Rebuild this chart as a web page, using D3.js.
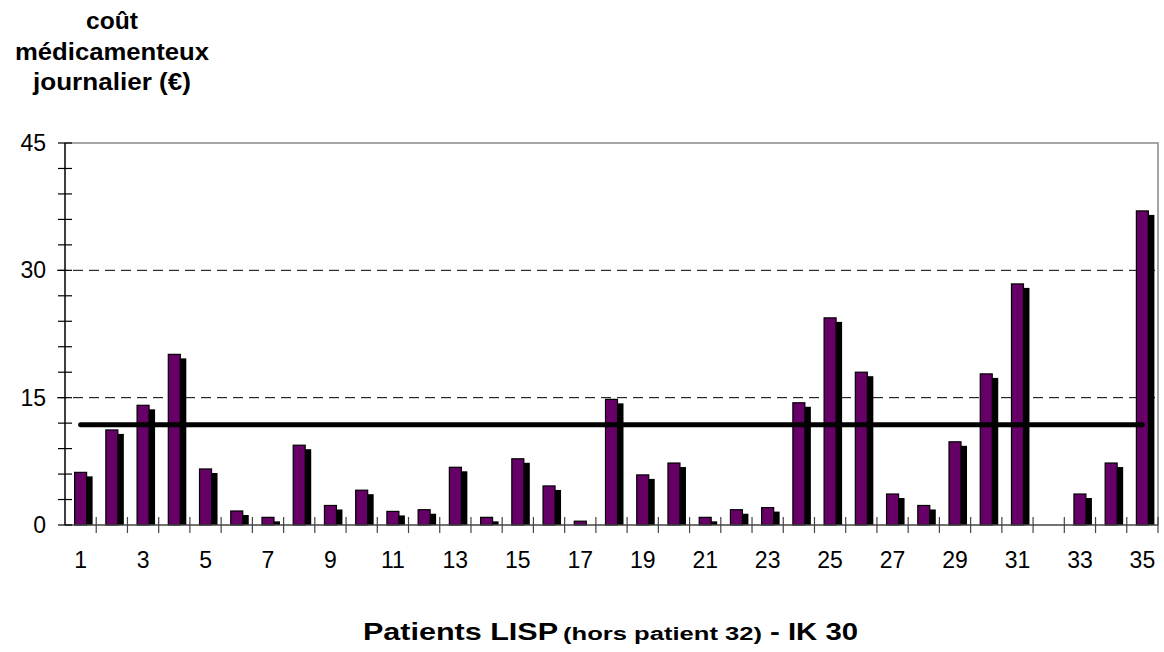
<!DOCTYPE html>
<html>
<head>
<meta charset="utf-8">
<script src="https://cdn.jsdelivr.net/npm/d3@7"></script>
<style>
  body { margin: 0; background: #fff; }
  text { font-family: Arial, "Liberation Sans", sans-serif; fill: #000; }
</style>
</head>
<body>
<svg id="chart" width="1164" height="652"></svg>
<script>
// patients 1..35 (patient 32 has no bar)
const patients = [1, 2, 3, 4, 5, 6, 7, 8, 9, 10, 11, 12, 13, 14, 15, 16, 17, 18,
  19, 20, 21, 22, 23, 24, 25, 26, 27, 28, 29, 30, 31, 32, 33, 34, 35];
// daily drug cost (€)
const costs = [6.2, 11.2, 14.1, 20.1, 6.6, 1.65, 0.9, 9.4, 2.3, 4.1, 1.6, 1.8,
  6.8, 0.9, 7.8, 4.6, 0.45, 14.8, 5.9, 7.3, 0.9, 1.8, 2.05, 14.4, 24.4, 18.0,
  3.65, 2.3, 9.8, 17.8, 28.4, null, 3.65, 7.3, 37.0];
// mean line, from first to last patient
const meanLine = [{ patient: 1, value: 11.8 }, { patient: 35, value: 11.8 }];
const yTicks = [0, 15, 30, 45];
const yMinor = [3, 6, 9, 12, 18, 21, 24, 27, 33, 36, 39, 42];
const xLabels = [1, 3, 5, 7, 9, 11, 13, 15, 17, 19, 21, 23, 25, 27, 29, 31, 33, 35];

const plotL = 65, plotR = 1158, plotT = 143, plotB = 525;
const svg = d3.select('#chart');

const x = d3.scaleBand().domain(patients).range([plotL, plotR]).padding(0);
const y = d3.scaleLinear().domain([0, 45]).range([plotB, plotT]);
const bw = x.bandwidth();
const cx = p => x(p) + bw / 2;
const barW = 12;

// dashed gridlines at 15 and 30
svg.append('g').selectAll('line')
  .data([15, 30])
  .join('line')
    .attr('x1', plotL - 8).attr('x2', plotR)
    .attr('y1', d => y(d)).attr('y2', d => y(d))
    .attr('stroke', '#000').attr('stroke-width', 1)
    .attr('stroke-dasharray', '10,6');

// plot frame top / right (gray)
svg.append('path')
  .attr('d', `M${plotL},${y(45)}H${plotR}V${y(0)}`)
  .attr('fill', 'none').attr('stroke', '#888').attr('stroke-width', 1.5);

const data = patients.map((p, i) => ({ patient: p, value: costs[i] }))
  .filter(d => d.value != null);

// shadow
svg.append('g').selectAll('rect')
  .data(data)
  .join('rect')
    .attr('x', d => cx(d.patient))
    .attr('y', d => Math.min(y(d.value) + 4, y(0)))
    .attr('width', barW)
    .attr('height', d => Math.max(0, y(0) - y(d.value) - 4))
    .attr('fill', '#000');

// bars
svg.append('g').selectAll('rect')
  .data(data)
  .join('rect')
    .attr('x', d => cx(d.patient) - barW / 2)
    .attr('y', d => y(d.value))
    .attr('width', barW)
    .attr('height', d => y(0) - y(d.value))
    .attr('fill', '#660066')
    .attr('stroke', '#000').attr('stroke-width', 1.2);

// x axis line + boundary ticks
svg.append('line')
  .attr('x1', plotL).attr('x2', plotR)
  .attr('y1', y(0)).attr('y2', y(0))
  .attr('stroke', '#444').attr('stroke-width', 1.5);
svg.append('g').selectAll('line')
  .data(patients.slice(1).map(p => x(p)).concat([plotR]))
  .join('line')
    .attr('x1', d => d).attr('x2', d => d)
    .attr('y1', y(0) - 8).attr('y2', y(0) + 8)
    .attr('stroke', '#444').attr('stroke-width', 1.2);

// x labels
svg.append('g')
  .attr('transform', `translate(0,${y(0)})`)
  .call(d3.axisBottom(x).tickValues(xLabels).tickSize(0).tickPadding(27))
  .call(g => g.select('.domain').remove())
  .call(g => g.selectAll('text').attr('font-size', 23).attr('font-family', null).attr('fill', '#000'));

// y axis
svg.append('line')
  .attr('x1', plotL).attr('x2', plotL)
  .attr('y1', y(45)).attr('y2', y(0))
  .attr('stroke', '#000').attr('stroke-width', 1.5);
svg.append('g').selectAll('line')
  .data(yTicks.concat(yMinor))
  .join('line')
    .attr('x1', plotL - 7).attr('x2', plotL + 7)
    .attr('y1', d => y(d)).attr('y2', d => y(d))
    .attr('stroke', '#000').attr('stroke-width', 1.2);
svg.append('g')
  .attr('transform', `translate(${plotL},0)`)
  .call(d3.axisLeft(y).tickValues(yTicks).tickSize(0).tickPadding(19))
  .call(g => g.select('.domain').remove())
  .call(g => g.selectAll('text').attr('font-size', 23).attr('font-family', null).attr('fill', '#000'));

// mean line
svg.append('path')
  .datum(meanLine)
  .attr('d', d3.line().x(d => cx(d.patient)).y(d => y(d.value)))
  .attr('fill', 'none').attr('stroke', '#000')
  .attr('stroke-width', 5).attr('stroke-linecap', 'round');

// y title (3 lines)
const yTitle = [
  { t: 'coût', base: 29, w: 52 },
  { t: 'médicamenteux', base: 60, w: 194 },
  { t: 'journalier (€)', base: 90, w: 158 }
];
svg.append('g').selectAll('text')
  .data(yTitle)
  .join('text')
    .attr('x', 112).attr('y', d => d.base)
    .attr('text-anchor', 'middle')
    .attr('font-size', 23).attr('font-weight', 'bold')
    .attr('textLength', d => d.w).attr('lengthAdjust', 'spacingAndGlyphs')
    .text(d => d.t);

// x title
const xTitle = [
  { t: 'Patients LISP', x: 363, w: 195, size: 23 },
  { t: '(hors patient 32)', x: 563, w: 199, size: 18 },
  { t: '- IK 30', x: 770, w: 88, size: 23 }
];
svg.append('g').selectAll('text')
  .data(xTitle)
  .join('text')
    .attr('x', d => d.x).attr('y', 640)
    .attr('font-size', d => d.size).attr('font-weight', 'bold')
    .attr('textLength', d => d.w).attr('lengthAdjust', 'spacingAndGlyphs')
    .text(d => d.t);
</script>
</body>
</html>
